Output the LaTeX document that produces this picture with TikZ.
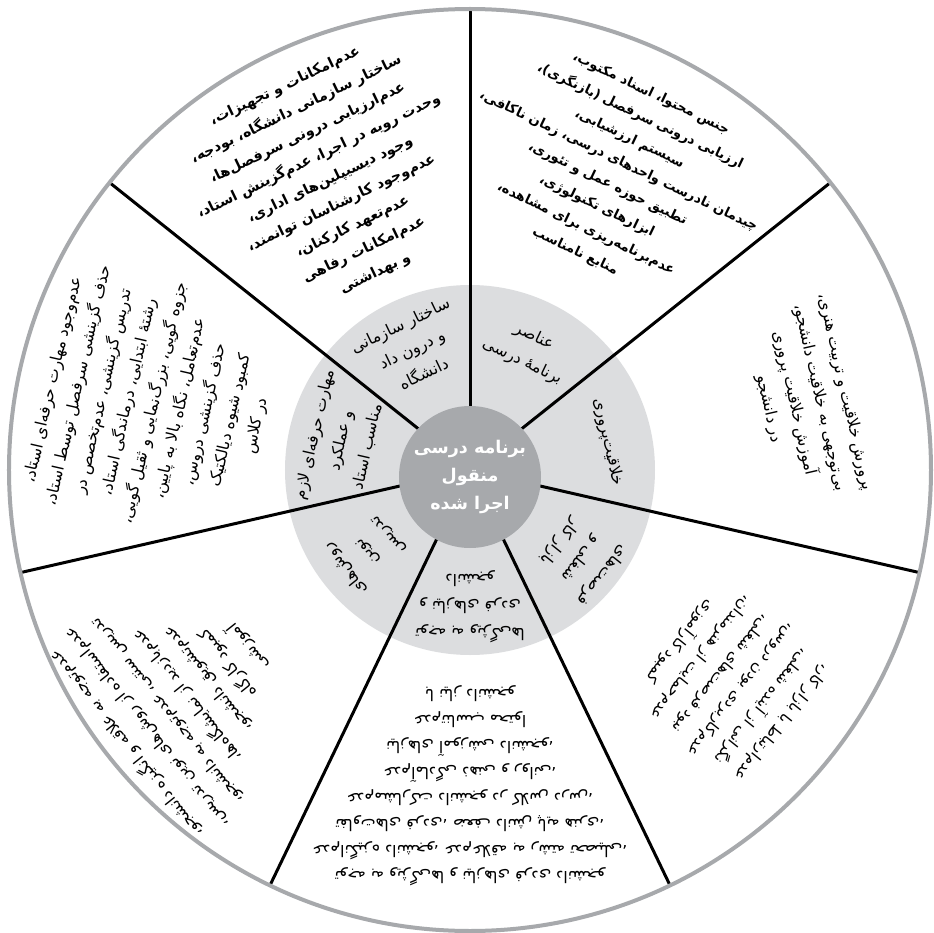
\documentclass[tikz,border=0pt]{standalone}
\usepackage{fontspec}
\TeXXeTstate=1
\newfontfamily\fa[Script=Arabic]{DejaVu Sans}
\newcommand\R[1]{\beginR #1\endR}
\definecolor{ringgray}{HTML}{DCDDDF}
\definecolor{hubgray}{HTML}{A7A9AC}
\definecolor{rimgray}{HTML}{A7A9AC}
\tikzset{
  divider/.style={line width=3pt, draw=black},
  rim/.style={line width=4pt, draw=rimgray},
  sectortext/.style={align=center, inner sep=0pt, font=\fa\fontsize{16}{26}\selectfont},
  sectorbold/.style={align=center, inner sep=0pt, font=\fa\bfseries\fontsize{14.3}{26}\selectfont},
  ringtext/.style={align=center, inner sep=0pt, font=\fa\fontsize{16}{27}\selectfont},
  hubtext/.style={circle, fill=hubgray, minimum size=142pt, inner sep=0pt, align=center, text=white, font=\fa\bfseries\fontsize{17.5}{28}\selectfont}
}
\begin{document}
\begin{tikzpicture}[x=1pt,y=1pt]
\useasboundingbox (-470,-462) rectangle (464,470);
\coordinate (c) at (0,0);
\fill[white] (c) circle (461);
\fill[ringgray] (c) circle (185);
\foreach \a/\n in {90/1, 38.5714/2, -12.8571/3, -64.2857/4, -115.7143/5, -167.1429/6, 141.4286/7}{
  \coordinate (o\n) at (\a:461);
  \draw[divider] (c) -- (o\n);
}
\node[hubtext] (hub) at (0,-7) {\R{برنامه درسی}\\\R{منقول}\\\R{اجرا شده}};
\draw[rim] (c) circle (461);

% ring labels
\node[ringtext, rotate=25.71] (r1) at (115.71:134) {\R{ساختار سازمانی}\\\R{و درون داد}\\\R{دانشگاه}};
\node[ringtext, rotate=-25.71] (r2) at (64.29:134) {\R{عناصر}\\\R{برنامهٔ درسی}};
\node[ringtext, rotate=-77.14] (r3) at (11.5:141) {\R{خلاقیت‌پروری}};
\node[ringtext, rotate=-128.57] (r7) at (-38.57:142) {\R{فرصت‌های}\\\R{شغلی و}\\\R{بازار کار}};
\node[ringtext, rotate=-180] (r6) at (-90:137) {\R{توجه به ویژگی‌ها}\\\R{و نیازهای فردی}\\\R{دانشجو}};
\node[ringtext, rotate=128.57] (r5) at (-141.43:132) {\R{روش‌های}\\\R{نوین}\\\R{تدریس}};
\node[ringtext, rotate=77.14] (r4) at (167.14:132) {\R{مهارت حرفه‌ای لازم}\\\R{و عملکرد}\\\R{مناسب استاد}};

% outer sector texts
\node[sectorbold, rotate=25.71] (t1) at (115.71:322) {\R{عدم‌امکانات و تجهیزات،}\\\R{ساختار سازمانی دانشگاه، بودجه،}\\\R{عدم‌ارزیابی درونی سرفصل‌ها،}\\\R{وحدت رویه در اجرا، عدم‌گزینش استاد،}\\\R{وجود دیسیپلین‌های اداری،}\\\R{عدم‌وجود کارشناسان توانمند،}\\\R{عدم‌تعهد کارکنان،}\\\R{عدم‌امکانات رفاهی}\\\R{و بهداشتی}};
\node[sectorbold, rotate=-25.71, font=\fa\bfseries\fontsize{13.3}{25}\selectfont] (t2) at (64.29:330) {\R{جنس محتوا، اسناد مکتوب،}\\\R{ارزیابی درونی سرفصل (بازنگری)،}\\\R{سیستم ارزشیابی،}\\\R{چیدمان نادرست واحدهای درسی، زمان ناکافی،}\\\R{تطبیق حوزه عمل و تئوری،}\\\R{ابزارهای تکنولوژی،}\\\R{عدم‌برنامه‌ریزی برای مشاهده،}\\\R{منابع نامناسب}};
\node[sectortext, rotate=-77.14] (t3) at (11.7:344) {\R{پرورش خلاقیت و تربیت هنری،}\\\R{بی‌توجهی به خلاقیت دانشجو،}\\\R{آموزش خلاقیت پروری}\\\R{در دانشجو}};
\node[sectortext, rotate=77.14] (t4) at (168:322) {\R{عدم‌وجود مهارت حرفه‌ای استاد،}\\\R{حذف گزینشی سرفصل توسط استاد،}\\\R{تدریس گزینشی، عدم‌تخصص در}\\\R{رشتهٔ ابتدایی، درماندگی استاد،}\\\R{جزوه گویی، بزرگ‌نمایی و ثقیل گویی،}\\\R{عدم‌تعامل، نگاه بالا به پایین،}\\\R{حذف گزینشی دروس،}\\\R{کمبود شیوه دیالکتیک}\\\R{در کلاس}};
\node[sectortext, rotate=-128.57, font=\fa\fontsize{15.5}{26}\selectfont] (t7) at (-39:336) {\R{عدم‌ارتباط با بازار کار،}\\\R{نگرانی از آینده شغلی،}\\\R{عدم‌کاربردی بودن دروس،}\\\R{نبود فرصت‌های شغلی،}\\\R{عدم‌حمایت از هنرمندان،}\\\R{کمبود کارآموزی}};
\node[sectortext, rotate=-180] (t6) at (-90:316) {\R{توجه به ویژگی‌ها و نیازهای فردی دانشجو}\\\R{عدم‌انگیزه دانشجو، عدم‌علاقه به رشته تحصیلی،}\\\R{تفاوت‌های فردی، ضعف دانش پایه هنری،}\\\R{عدم‌مشارکت دانشجو در کلاس درس،}\\\R{عدم‌آمادگی ذهنی و روانی،}\\\R{نیازهای آموزشی دانشجو،}\\\R{عدم‌تناسب محتوا}\\\R{با نیاز دانشجو}};
\node[sectortext, rotate=128.57] (t5) at (-141.43:362) {\R{عدم‌توجه به علاقه و انگیزه دانشجو،}\\\R{عدم‌استفاده از روش‌های نوین تدریس،}\\\R{تدریس سنتی، عدم‌توجه به دانشجو،}\\\R{عدم‌بازدید از نمایشگاه‌ها،}\\\R{عدم‌تشویق دانشجو،}\\\R{کمبود کارگاه}\\\R{آموزشی}};
\end{tikzpicture}
\end{document}
